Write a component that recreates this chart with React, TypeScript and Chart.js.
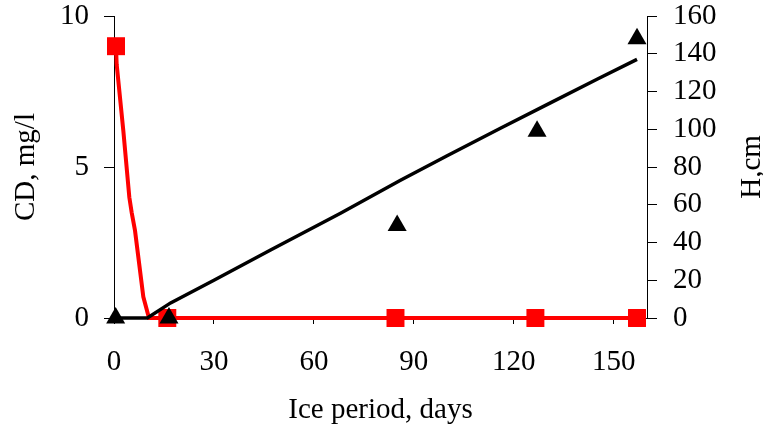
import React, { useEffect, useRef } from "react";
import { Chart, registerables } from "chart.js";

Chart.register(...registerables);

// Axis ticks
const dayTicks = [0, 30, 60, 90, 120, 150];
const cdTicks = [0, 5, 10];
const hTicks = [0, 20, 40, 60, 80, 100, 120, 140, 160];

// Measured CD (mg/l), red squares
const cdDays = [0.6, 16, 84.5, 126.5, 157];
const cdValues = [9, 0, 0, 0, 0];

// CD decay curve, red line
const cdCurveDays = [0.6, 0.8, 2.8, 4.6, 5.3, 6.3, 8.8, 10.5, 157];
const cdCurveValues = [9, 8.4, 6.2, 4.0, 3.5, 2.9, 0.7, 0, 0];

// Measured ice thickness H (cm), black triangles
const hDays = [0.5, 16.5, 85, 127, 157];
const hValues = [0, 0, 49, 99, 148];

// Modelled ice thickness H (cm), black line
const hCurveDays = [0, 10, 17, 30, 47, 68, 86, 100, 116, 131, 145, 157];
const hCurveValues = [0, 0, 8, 20, 36, 55.5, 73, 86, 100.5, 114, 126.5, 137];

const FONT = '"Liberation Serif", "Times New Roman", serif';
const pts = (xs: number[], ys: number[]) => xs.map((x, i) => ({ x, y: ys[i] }));

// Right-hand axis title, read bottom-to-top like the left one
const rightTitle = {
  id: "rightTitle",
  afterDraw(chart: any) {
    const { ctx, chartArea, width } = chart;
    ctx.save();
    ctx.translate(width - 11, (chartArea.top + chartArea.bottom) / 2);
    ctx.rotate(-Math.PI / 2);
    ctx.font = `29px ${FONT}`;
    ctx.fillStyle = "#000";
    ctx.textAlign = "center";
    ctx.textBaseline = "middle";
    ctx.fillText("H,cm", 0, 0);
    ctx.restore();
  },
};

export default function App() {
  const ref = useRef<HTMLCanvasElement>(null);

  useEffect(() => {
    if (!ref.current) return;
    const tickFont = { family: FONT, size: 29, lineHeight: 1.1 };
    const chart = new Chart(ref.current, {
      type: "scatter",
      data: {
        datasets: [
          {
            label: "H measured",
            data: pts(hDays, hValues),
            yAxisID: "yH",
            pointStyle: "triangle",
            pointRadius: 11,
            pointBackgroundColor: "#000",
            pointBorderWidth: 0,
            showLine: false,
            clip: false,
          },
          {
            label: "H model",
            data: pts(hCurveDays, hCurveValues),
            yAxisID: "yH",
            showLine: true,
            borderColor: "#000",
            borderWidth: 3.5,
            pointRadius: 0,
            clip: false,
          },
          {
            label: "CD measured",
            data: pts(cdDays, cdValues),
            yAxisID: "yCD",
            pointStyle: "rect",
            pointRadius: 12.7,
            pointBackgroundColor: "#ff0000",
            pointBorderWidth: 0,
            showLine: false,
            clip: false,
          },
          {
            label: "CD curve",
            data: pts(cdCurveDays, cdCurveValues),
            yAxisID: "yCD",
            showLine: true,
            borderColor: "#ff0000",
            borderWidth: 4,
            pointRadius: 0,
            clip: false,
          },
        ],
      },
      options: {
        animation: false,
        responsive: false,
        devicePixelRatio: 1,
        layout: { padding: { top: 16, left: 0, right: 0, bottom: 0 } },
        plugins: { legend: { display: false }, tooltip: { enabled: false } },
        scales: {
          x: {
            type: "linear",
            position: "bottom",
            min: 0,
            max: 160,
            afterBuildTicks: (s: any) => {
              s.ticks = dayTicks.map((v) => ({ value: v }));
            },
            afterFit: (s: any) => {
              s.height = 110;
            },
            grid: { display: true, drawOnChartArea: false, drawTicks: true, tickLength: 6, color: "#000" },
            border: { display: true, color: "#000", width: 1 },
            ticks: { font: tickFont, color: "#000", padding: 22, maxRotation: 0 },
            title: {
              display: true,
              text: "Ice period, days",
              font: { family: FONT, size: 29 },
              color: "#000",
              padding: { top: 0, bottom: 0 },
            },
          },
          yCD: {
            type: "linear",
            position: "left",
            min: 0,
            max: 10,
            afterBuildTicks: (s: any) => {
              s.ticks = cdTicks.map((v) => ({ value: v }));
            },
            afterFit: (s: any) => {
              s.width = 114;
              s.paddingTop = 0;
              s.paddingBottom = 0;
            },
            grid: { display: true, drawOnChartArea: false, drawTicks: true, tickLength: 10, color: "#000" },
            border: { display: true, color: "#000", width: 1 },
            ticks: { font: tickFont, color: "#000", padding: 15 },
            title: {
              display: true,
              text: "CD, mg/l",
              font: { family: FONT, size: 29 },
              color: "#000",
              padding: { top: 9, bottom: 0 },
            },
          },
          yH: {
            type: "linear",
            position: "right",
            min: 0,
            max: 160,
            afterBuildTicks: (s: any) => {
              s.ticks = hTicks.map((v) => ({ value: v }));
            },
            afterFit: (s: any) => {
              s.width = 116;
              s.paddingTop = 0;
              s.paddingBottom = 0;
            },
            grid: { display: true, drawOnChartArea: false, drawTicks: true, tickLength: 10, color: "#000" },
            border: { display: true, color: "#000", width: 1 },
            ticks: { font: tickFont, color: "#000", padding: 16 },
          },
        },
      },
      plugins: [rightTitle],
    } as any);
    return () => chart.destroy();
  }, []);

  return (
    <div style={{ position: "fixed", left: 0, top: 0, width: 763, height: 428, background: "#fff" }}>
      <canvas ref={ref} width={763} height={428} style={{ display: "block" }} />
    </div>
  );
}
